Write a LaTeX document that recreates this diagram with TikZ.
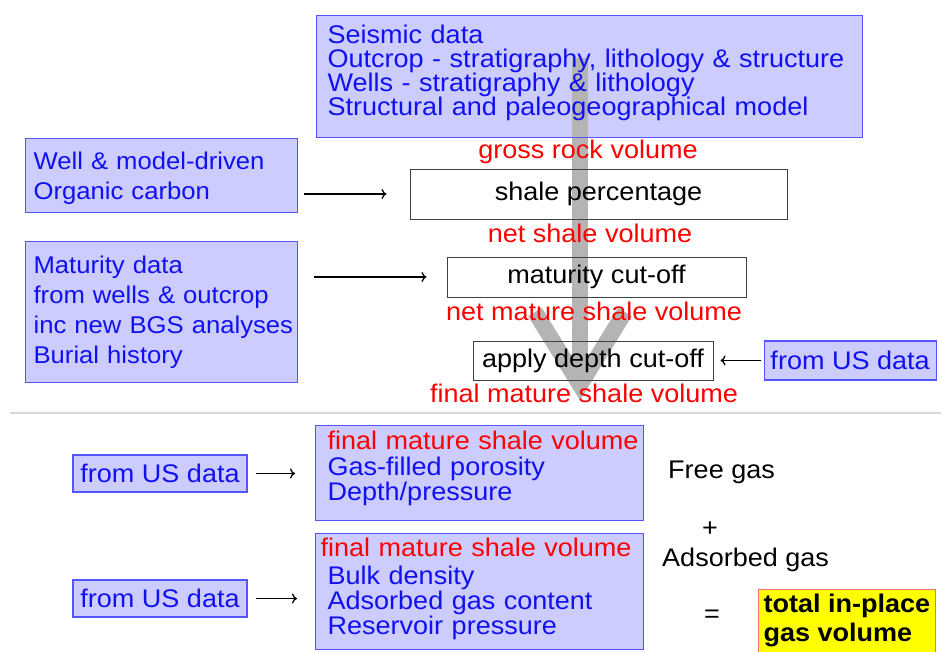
\documentclass[tikz,border=0pt]{standalone}
\usepackage{fontspec}
\setmainfont{Liberation Sans}[FakeStretch=1.06]
\usetikzlibrary{positioning,arrows.meta}
\pgfdeclarelayer{background}
\pgfsetlayers{background,main}
\definecolor{boxfill}{RGB}{204,204,255}
\definecolor{boxedge}{RGB}{85,85,255}
\definecolor{datablue}{RGB}{16,16,240}
\definecolor{volred}{RGB}{255,0,0}
\definecolor{arrowgray}{RGB}{180,180,180}
\definecolor{sepgray}{RGB}{217,217,217}
\definecolor{totalyellow}{RGB}{255,255,0}
\definecolor{totaledge}{RGB}{255,110,110}
% invisible depth under the last line, lifts the text in its box
\newcommand{\padbelow}[1]{\rule[-#1]{0pt}{0pt}}
% invisible height over the first line, lowers the text in its box
\newcommand{\padabove}[1]{\rule{0pt}{#1}}
% left indent of one line
\newcommand{\lead}[1]{\hspace*{#1}}

\begin{document}
\begin{tikzpicture}[
  x=1pt, y=-1pt,
  every node/.style={font=\fontsize{25.5}{24}\selectfont},
  databox/.style={draw=boxedge, line width=1.2pt, fill=boxfill, text=datablue, align=left, anchor=north west},
  sidebox/.style={databox, minimum width=272pt, text width=270pt, inner xsep=1pt, font=\fontsize{24.2}{30}\selectfont},
  gasbox/.style={databox, minimum width=328pt, text width=324pt, inner xsep=2pt},
  stepbox/.style={draw=black!75, line width=1pt, text=black},
  vollabel/.style={text=volred, anchor=base, inner sep=0pt},
  gaslabel/.style={text=black, inner sep=0pt},
  totalbox/.style={draw=totaledge, line width=1pt, fill=totalyellow, align=left, anchor=north west,
    font=\bfseries\fontsize{25.5}{29}\selectfont, inner xsep=5pt, inner ysep=5pt},
  flow/.style={-{To[length=5pt,width=10pt]}, line width=1.3pt},
  bigarrow/.style={draw=arrowgray, line width=16pt},
  sepline/.style={draw=sepgray, line width=1.5pt}
]
\useasboundingbox (0,0) rectangle (941,651);

% Upper part: volume chain
\node[databox, fill=none, minimum width=546pt, minimum height=122pt, text width=524pt, inner xsep=11pt] (seis) at (316,15)
  {Seismic data\\Outcrop - stratigraphy, lithology \& structure\\Wells - stratigraphy \& lithology\\Structural and paleogeographical model\padbelow{12pt}};
\node[sidebox, minimum height=74pt] (well) at (25,138)
  {\lead{7pt}\padabove{22pt}Well \& model-driven\\\lead{7pt}Organic carbon};
\node[sidebox, below=28pt of well, minimum height=141pt] (maturity)
  {\lead{7pt}Maturity data\\\lead{7pt}from wells \& outcrop\\\lead{7pt}inc new BGS analyses\\\lead{7pt}Burial history};

\node[stepbox, minimum width=377pt, minimum height=50pt] (shale) at (598.5,194) {shale percentage};
\node[stepbox, minimum width=299pt, minimum height=40pt] (cutoff) at (596.5,277) {maturity cut-off};
\node[stepbox, minimum width=240pt, minimum height=39pt] (depth) at (593,360.5) {apply depth cut-off};
\node[databox, right=50pt of depth, minimum width=172pt, minimum height=39pt] (usdepth) {from US data};

\node[vollabel] (gross) at (588,158) {gross rock volume};
\node[vollabel] (netshale) at (590,242) {net shale volume};
\node[vollabel] (netmature) at (594,320) {net mature shale volume};
\node[vollabel] (final) at (584,402) {final mature shale volume};

% big gray arrow behind the texts
\coordinate (shafttop) at (580,58);
\coordinate (tip) at (580,385);
\begin{pgfonlayer}{background}
\fill[boxfill] (seis.south west) rectangle (seis.north east);
\draw[bigarrow] (shafttop) -- (tip);
\draw[bigarrow, line join=miter] ([shift={(-45,-73)}]tip) -- (tip) -- ([shift={(45,-73)}]tip);
\end{pgfonlayer}

\draw[flow, shorten <=6pt, shorten >=23pt] (well.east |- shale.west) -- (shale.west);
\draw[flow, shorten <=16pt, shorten >=20pt] (maturity.east |- cutoff.west) -- (cutoff.west);
\draw[flow, shorten <=3pt, shorten >=7pt] (usdepth) -- (depth);

\draw[sepline] (10,413) -- (941,413);

% Lower part: gas volumes
\node[databox, anchor=center, minimum width=174pt, minimum height=37pt] (usfree) at (160,473.5) {from US data};
\node[databox, anchor=center, minimum width=174pt, minimum height=37pt] (usads) at (160,598.5) {from US data};
\node[gasbox, minimum height=95pt, font=\fontsize{25.5}{25.5}\selectfont] (freebox) at (315,425)
  {\lead{10pt}\textcolor{volred}{final mature shale volume}\\\lead{10pt}Gas-filled porosity\\\lead{10pt}Depth/pressure\padbelow{14.6pt}};
\node[gasbox, below=12pt of freebox, minimum height=116pt, font=\fontsize{25.5}{25}\selectfont] (adsbox)
  {\lead{3pt}\textcolor{volred}{final mature shale volume}\\[3pt]\lead{10pt}Bulk density\\\lead{10pt}Adsorbed gas content\\\lead{10pt}Reservoir pressure\padbelow{10.6pt}};

\draw[flow, shorten <=8pt, shorten >=20pt] (usfree) -- (usfree -| freebox.west);
\draw[flow, shorten <=8pt, shorten >=18pt] (usads) -- (usads -| adsbox.west);

\node[gaslabel, anchor=base west] (freegas) at (668,478) {Free gas};
\node[gaslabel, anchor=base] (plus) at (710,536) {+};
\node[gaslabel, anchor=base west] (adsgas) at (662,566) {Adsorbed gas};
\node[gaslabel, anchor=base] (equals) at (712,622) {=};
\node[totalbox] (total) at (758,589) {total in-place\\gas volume};

\end{tikzpicture}
\end{document}
